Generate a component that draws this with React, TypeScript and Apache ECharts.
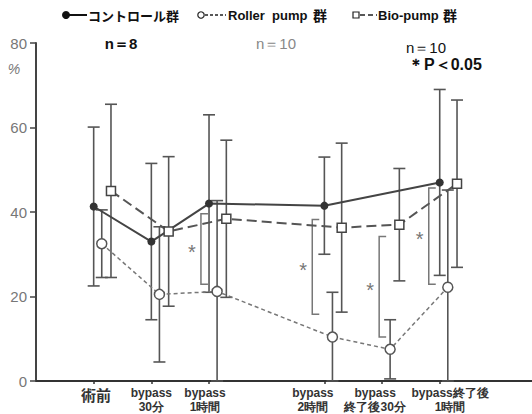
import React, { useEffect, useRef } from 'react';
import * as echarts from 'echarts';

// ---- data ----
const timeLabels = ['術前', 'bypass\n30分', 'bypass\n1時間', 'bypass\n2時間', 'bypass\n終了後30分', 'bypass終了後\n1時間'];
const timePos = [0, 1, 2, 4, 5, 6];
const yTicks = [0, 20, 40, 60, 80];

const controlMean = [41.3, 33, 42, 41.5, null, 47];
const controlSD = [18.8, 18.5, 21, 11.5, null, 22];
const rollerMean = [32.5, 20.5, 21.2, 10.4, 7.5, 22.2];
const rollerSD = [8, 16, 21.5, 10.6, 7, 23];
const bioMean = [45, 35.4, 38.4, 36.3, 37, 46.7];
const bioSD = [20.5, 17.7, 18.6, 20, 13.3, 19.8];

// significance brackets (x in time units, y range in %)
const sigPos = [1.86, 3.79, 4.95, 5.81];
const sigHigh = [39.6, 38.2, 34.2, 45.7];
const sigLow = [22.9, 15.8, 10.4, 22.9];

// ---- style ----
const labelPos = [0.04, 1, 1.93, 3.8, 4.88, 6.18];
const offControl = 0;
const offRoller = 0.14;
const offBio = 0.3;
const SANS = "'Liberation Sans','DejaVu Sans',sans-serif";
const CJK = "'Noto Sans CJK JP','Liberation Sans',sans-serif";

function pts(mean: (number | null)[], off: number) {
  const out: number[][] = [];
  mean.forEach((m, i) => {
    if (m != null) out.push([timePos[i] + off, m]);
  });
  return out;
}

function errorSeries(mean: (number | null)[], sd: (number | null)[], off: number) {
  const data: number[][] = [];
  mean.forEach((m, i) => {
    if (m != null && sd[i] != null) data.push([timePos[i] + off, m, sd[i] as number]);
  });
  return {
    type: 'custom',
    z: 2,
    silent: true,
    clip: false,
    data,
    encode: { x: 0, y: 1 },
    renderItem: (params: any, api: any) => {
      const x = api.value(0);
      const m = api.value(1);
      const s = api.value(2);
      const top = api.coord([x, m + s]);
      const bot = api.coord([x, Math.max(0, m - s)]);
      const w = 6;
      const style = { stroke: '#555', lineWidth: 1.6 };
      return {
        type: 'group',
        children: [
          { type: 'line', shape: { x1: top[0], y1: top[1], x2: bot[0], y2: bot[1] }, style },
          { type: 'line', shape: { x1: top[0] - w, y1: top[1], x2: top[0] + w, y2: top[1] }, style },
          { type: 'line', shape: { x1: bot[0] - w, y1: bot[1], x2: bot[0] + w, y2: bot[1] }, style },
        ],
      };
    },
  };
}

export default function App() {
  const ref = useRef<HTMLDivElement>(null);
  useEffect(() => {
    if (!ref.current) return;
    const chart = echarts.init(ref.current, null, { renderer: 'svg' });
    const sigData = sigPos.map((x, i) => [x, sigHigh[i], sigLow[i]]);
    chart.setOption({
      animation: false,
      backgroundColor: '#fff',
      grid: { left: 36, right: 0, top: 43, bottom: 33, containLabel: false, outerBoundsMode: 'none' },
      xAxis: {
        type: 'value',
        min: -1,
        max: 7.6,
        splitLine: { show: false },
        axisLine: { show: true, onZero: false, lineStyle: { color: '#333', width: 2 } },
        axisTick: { show: true, customValues: timePos, length: 3, lineStyle: { color: '#333', width: 1.5 } },
        axisLabel: {
          customValues: labelPos,
          hideOverlap: false,
          margin: 5,
          color: '#333',
          fontFamily: SANS,
          fontWeight: 'bold',
          fontSize: 12,
          lineHeight: 14,
          formatter: (v: number) => {
            const i = labelPos.findIndex((p) => Math.abs(p - v) < 1e-6);
            if (i < 0) return '';
            if (i === 0) return '{big|' + timeLabels[0] + '}';
            return timeLabels[i];
          },
          rich: {
            big: { fontSize: 15, fontFamily: CJK, color: '#333', lineHeight: 16 },
          },
        },
      },
      yAxis: {
        type: 'value',
        min: yTicks[0],
        max: yTicks[yTicks.length - 1],
        interval: 20,
        splitLine: { show: false },
        axisLine: { show: true, onZero: false, lineStyle: { color: '#444', width: 2 } },
        axisTick: { show: true, length: 6, lineStyle: { color: '#444', width: 1.5 } },
        axisLabel: { color: '#777', fontSize: 15, fontFamily: SANS, margin: 9 },
      },
      graphic: [
        // legend: control
        { type: 'circle', shape: { cx: 66, cy: 15, r: 4 }, style: { fill: '#111' } },
        { type: 'line', shape: { x1: 69, y1: 15, x2: 87, y2: 15 }, style: { stroke: '#111', lineWidth: 2 } },
        { type: 'text', x: 88, y: 15, style: { text: 'コントロール群', font: 'bold 13px ' + CJK, fill: '#111', verticalAlign: 'middle' } },
        // legend: roller
        { type: 'circle', shape: { cx: 201, cy: 15, r: 3.2 }, style: { fill: '#fff', stroke: '#222', lineWidth: 1.2 } },
        { type: 'line', shape: { x1: 205, y1: 15, x2: 226, y2: 15 }, style: { stroke: '#222', lineWidth: 1.5, lineDash: [3, 2] } },
        { type: 'text', x: 228, y: 15, style: { text: 'Roller  pump', font: 'bold 13px ' + SANS, fill: '#111', verticalAlign: 'middle' } },
        { type: 'text', x: 313, y: 15, style: { text: '群', font: 'bold 14px ' + CJK, fill: '#111', verticalAlign: 'middle' } },
        // legend: bio
        { type: 'rect', shape: { x: 353, y: 12, width: 6, height: 6 }, style: { fill: '#fff', stroke: '#222', lineWidth: 1.2 } },
        { type: 'line', shape: { x1: 360, y1: 15, x2: 377, y2: 15 }, style: { stroke: '#222', lineWidth: 1.5, lineDash: [5, 3] } },
        { type: 'text', x: 378, y: 15, style: { text: 'Bio-pump', font: 'bold 13px ' + SANS, fill: '#111', verticalAlign: 'middle' } },
        { type: 'text', x: 443, y: 15, style: { text: '群', font: 'bold 14px ' + CJK, fill: '#111', verticalAlign: 'middle' } },
        // n counts
        { type: 'text', x: 121, y: 43, style: { text: 'n＝8', font: 'bold 15px ' + SANS, fill: '#111', align: 'center', verticalAlign: 'middle' } },
        { type: 'text', x: 276, y: 43, style: { text: 'n＝10', font: '15px ' + SANS, fill: '#888', align: 'center', verticalAlign: 'middle' } },
        { type: 'text', x: 426, y: 47, style: { text: 'n＝10', font: '15px ' + SANS, fill: '#111', align: 'center', verticalAlign: 'middle' } },
        { type: 'text', x: 408, y: 64, style: { text: '＊P＜0.05', font: 'bold 16px ' + SANS, fill: '#111', verticalAlign: 'middle' } },
        // y unit
        { type: 'text', x: 14, y: 69, style: { text: '%', font: 'italic 14px ' + SANS, fill: '#777', align: 'center', verticalAlign: 'middle' } },
      ],
      series: [
        errorSeries(controlMean, controlSD, offControl),
        errorSeries(rollerMean, rollerSD, offRoller),
        errorSeries(bioMean, bioSD, offBio),
        {
          type: 'custom',
          z: 2,
          silent: true,
          clip: false,
          data: sigData,
          encode: { x: 0, y: 1 },
          renderItem: (params: any, api: any) => {
            const x = api.value(0);
            const top = api.coord([x, api.value(1)]);
            const bot = api.coord([x, api.value(2)]);
            const w = 7;
            return {
              type: 'group',
              children: [
                {
                  type: 'polyline',
                  shape: { points: [[top[0] + w, top[1]], [top[0], top[1]], [bot[0], bot[1]], [bot[0] + w, bot[1]]] },
                  style: { stroke: '#777', lineWidth: 1.5, fill: 'none' },
                },
                {
                  type: 'text',
                  x: top[0] - 9,
                  y: (top[1] + bot[1]) / 2 + 3,
                  style: { text: '*', font: '20px ' + SANS, fill: '#777', align: 'center', verticalAlign: 'middle' },
                },
              ],
            };
          },
        },
        {
          name: 'コントロール群',
          type: 'line',
          z: 4,
          data: pts(controlMean, offControl),
          symbol: 'circle',
          symbolSize: 8,
          itemStyle: { color: '#333' },
          lineStyle: { color: '#444', width: 2 },
        },
        {
          name: 'Roller pump 群',
          type: 'line',
          z: 4,
          data: pts(rollerMean, offRoller),
          symbol: 'circle',
          symbolSize: 10,
          itemStyle: { color: '#fff', borderColor: '#555', borderWidth: 1.5 },
          lineStyle: { color: '#777', width: 1.5, type: [4, 3] },
        },
        {
          name: 'Bio-pump 群',
          type: 'line',
          z: 4,
          data: pts(bioMean, offBio),
          symbol: 'rect',
          symbolSize: 9,
          itemStyle: { color: '#fff', borderColor: '#444', borderWidth: 1.5 },
          lineStyle: { color: '#555', width: 2, type: [10, 5] },
        },
      ],
    });
    return () => chart.dispose();
  }, []);
  return <div ref={ref} style={{ width: 532, height: 414, position: 'absolute', left: 0, top: 0 }} />;
}
